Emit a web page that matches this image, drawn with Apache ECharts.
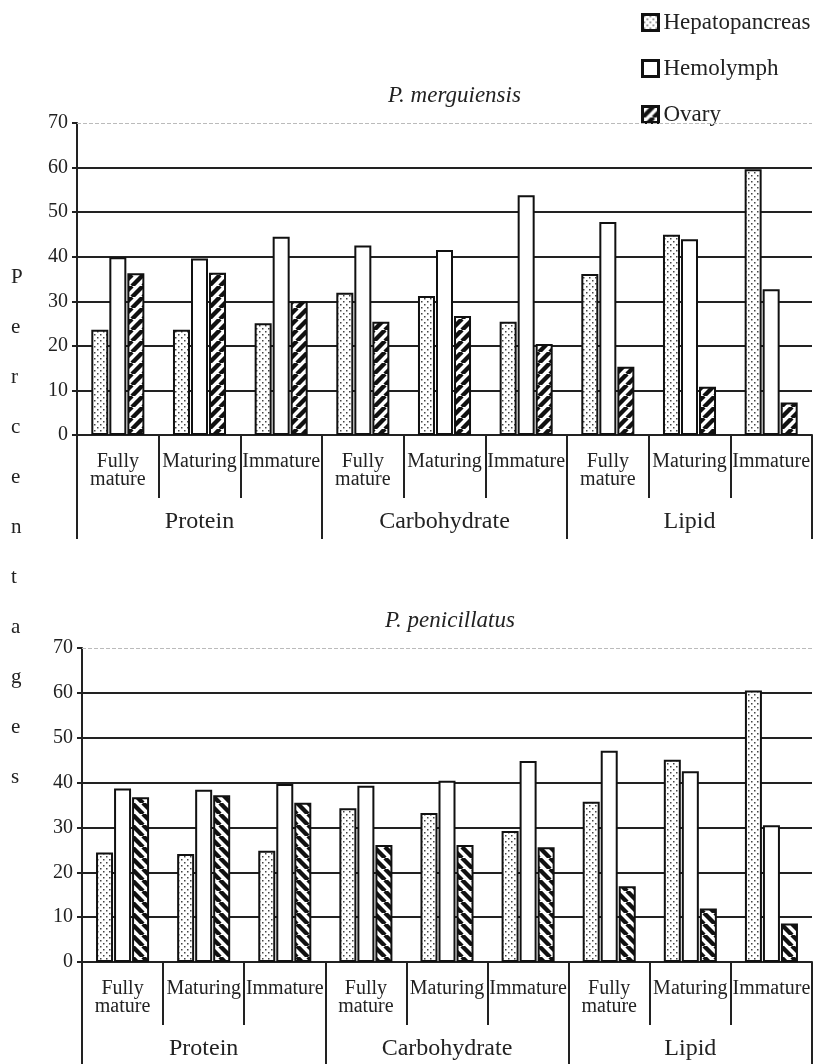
<!DOCTYPE html>
<html>
<head>
<meta charset="utf-8">
<script src="https://cdn.jsdelivr.net/npm/echarts@6/dist/echarts.min.js"></script>
<style>
html,body{margin:0;padding:0;background:#fff;}
#chart{width:825px;height:1064px;}
</style>
</head>
<body>
<div id="chart"></div>
<script>
// ---- data ----
const categories = ['Fully\nmature','Maturing','Immature','Fully\nmature','Maturing','Immature','Fully\nmature','Maturing','Immature'];
const groups = ['Protein','Carbohydrate','Lipid'];
const seriesNames = ['Hepatopancreas','Hemolymph','Ovary'];
const titles = ['P. merguiensis','P. penicillatus'];
const yTitle = 'Percentages';
const yTicks = {min:0, max:70, interval:10};

const mergHepato = [23.6, 23.6, 25.1, 31.9, 31.2, 25.4, 36.1, 44.9, 59.6];
const mergHemo   = [39.9, 39.6, 44.5, 42.5, 41.5, 53.8, 47.8, 43.9, 32.7];
const mergOvary  = [36.3, 36.4, 30.0, 25.4, 26.7, 20.4, 15.3, 10.8, 7.3];

const penHepato = [24.4, 24.1, 24.8, 34.3, 33.2, 29.2, 35.7, 45.1, 60.5];
const penHemo   = [38.7, 38.4, 39.7, 39.3, 40.4, 44.8, 47.1, 42.5, 30.5];
const penOvary  = [36.7, 37.2, 35.5, 26.1, 26.1, 25.6, 16.9, 11.9, 8.6];

// ---- patterns ----
function dotPattern(){
  const c = document.createElement('canvas'); c.width = 6; c.height = 6;
  const g = c.getContext('2d');
  g.fillStyle = '#fff'; g.fillRect(0,0,6,6);
  g.fillStyle = '#444';
  g.fillRect(1,1,1.5,1.5); g.fillRect(4,4,1.5,1.5);
  return {image:c, repeat:'repeat'};
}
function hatchPattern(forward){
  const s = 11;
  const c = document.createElement('canvas'); c.width = s; c.height = s;
  const g = c.getContext('2d');
  g.fillStyle = '#fff'; g.fillRect(0,0,s,s);
  g.strokeStyle = '#111'; g.lineWidth = 4.4;
  for (const k of [-s, 0, s]) {
    g.beginPath();
    if (forward) { g.moveTo(k, s); g.lineTo(k + s, 0); }
    else { g.moveTo(k, 0); g.lineTo(k + s, s); }
    g.stroke();
  }
  return {image:c, repeat:'repeat'};
}

const FONT = 'Liberation Serif';
const INK = '#222';

const chart = echarts.init(document.getElementById('chart'), null, {renderer:'canvas'});

const grids = [
  {left:77, right:13, top:123, height:312},
  {left:82, right:13, top:648, height:314}
];

function xAxesFor(gi){
  return [
    {
      gridIndex: gi, type:'category', data: categories, position:'bottom',
      axisLine:{show:true, lineStyle:{color:INK, width:2}},
      axisTick:{show:true, length:63, interval:0, lineStyle:{color:INK, width:2}},
      axisLabel:{interval:0, fontFamily:FONT, fontSize:20, lineHeight:18, color:INK, margin:18},
      splitLine:{show:false}
    },
    {
      gridIndex: gi, type:'category', data: groups, position:'bottom',
      axisLine:{show:false},
      axisTick:{show:true, length:104, interval:0, lineStyle:{color:INK, width:2}},
      axisLabel:{interval:0, fontFamily:FONT, fontSize:24, color:INK, margin:75},
      splitLine:{show:false}
    }
  ];
}
function yAxisFor(gi){
  return {
    gridIndex: gi, type:'value', min:yTicks.min, max:yTicks.max, interval:yTicks.interval,
    axisLine:{show:true, lineStyle:{color:INK, width:2}},
    axisTick:{show:true, length:5, lineStyle:{color:INK, width:2}},
    axisLabel:{fontFamily:FONT, fontSize:20, color:INK, margin:9},
    splitLine:{show:true, lineStyle:{color:[INK,INK,INK,INK,INK,INK,INK,'rgba(0,0,0,0)'], width:2}}
  };
}

function barSeries(name, data, gi, color, withMark){
  const s = {
    name, type:'bar', data, xAxisIndex: gi*2, yAxisIndex: gi,
    barWidth:17, barGap:'6%',
    itemStyle:{color, borderColor:'#111', borderWidth:2},
    emphasis:{disabled:true}
  };
  if (withMark) {
    s.markLine = {
      silent:true, symbol:['none','none'], label:{show:false},
      lineStyle:{color:'#bbb', type:'dashed', width:1},
      data:[{yAxis:yTicks.max}]
    };
  }
  return s;
}

const dots = dotPattern();
const white = '#fff';

const option = {
  animation:false,
  backgroundColor:'#fff',
  textStyle:{fontFamily:FONT, color:INK},
  title:[
    {text:titles[0], left:383, top:79, textStyle:{fontFamily:FONT, fontStyle:'italic', fontWeight:'normal', fontSize:23, color:INK}},
    {text:titles[1], left:380, top:604, textStyle:{fontFamily:FONT, fontStyle:'italic', fontWeight:'normal', fontSize:23, color:INK}}
  ],
  legend:{
    data:seriesNames, orient:'vertical', left:636, top:6,
    itemWidth:16, itemHeight:16, itemGap:23,
    icon:'rect',
    itemStyle:{borderColor:'#111', borderWidth:3},
    textStyle:{fontFamily:FONT, fontSize:23, color:INK}
  },
  graphic:[{
    type:'text', left:11, top:252,
    style:{text: yTitle.split('').join('\n'), font:'21px "Liberation Serif"', fill:INK, lineHeight:50, align:'center'}
  }],
  grid: grids,
  xAxis: [...xAxesFor(0), ...xAxesFor(1)],
  yAxis: [yAxisFor(0), yAxisFor(1)],
  series:[
    barSeries(seriesNames[0], mergHepato, 0, dots, true),
    barSeries(seriesNames[1], mergHemo, 0, white, false),
    barSeries(seriesNames[2], mergOvary, 0, hatchPattern(true), false),
    barSeries(seriesNames[0], penHepato, 1, dots, true),
    barSeries(seriesNames[1], penHemo, 1, white, false),
    barSeries(seriesNames[2], penOvary, 1, hatchPattern(false), false)
  ]
};
chart.setOption(option);
</script>
</body>
</html>
